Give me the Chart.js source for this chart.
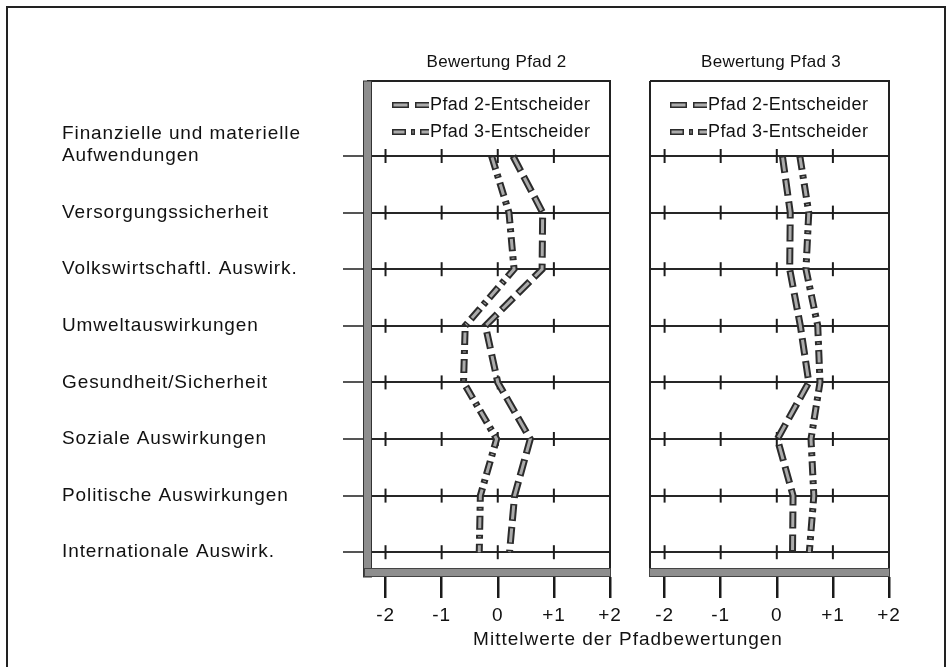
<!DOCTYPE html>
<html><head><meta charset="utf-8">
<script src="https://cdn.jsdelivr.net/npm/chart.js@4/dist/chart.umd.min.js"></script>
<style>
html,body{margin:0;padding:0;background:#fff;overflow:hidden;width:952px;height:667px;position:relative;}
#frame{position:absolute;left:6px;top:6px;width:940px;height:720px;border:2px solid #222;box-sizing:border-box;}
#c1{position:absolute;left:0;top:0;}
#c2{position:absolute;left:625px;top:0;}
</style></head><body>
<div id="frame"></div>
<canvas id="c1" width="952" height="667"></canvas>
<canvas id="c2" width="327" height="667"></canvas>
<script>
// ---------- data ----------
const categories = [["Finanzielle und materielle", "Aufwendungen"], "Versorgungssicherheit", "Volkswirtschaftl. Auswirk.", "Umweltauswirkungen", "Gesundheit/Sicherheit", "Soziale Auswirkungen", "Politische Auswirkungen", "Internationale Auswirk."];
const seriesNames = ["Pfad 2-Entscheider", "Pfad 3-Entscheider"];
const panelTitles = ["Bewertung Pfad 2", "Bewertung Pfad 3"];
const xTickValues = [-2, -1, 0, 1, 2];
const xTickLabels = ["-2", "-1", "0", "+1", "+2"];
const axisTitle = "Mittelwerte der Pfadbewertungen";
// Bewertung Pfad 2
const path2RatingByPath2Deciders = [0.27, 0.80, 0.79, -0.22, 0.00, 0.58, 0.30, 0.21];
const path2RatingByPath3Deciders = [-0.11, 0.20, 0.29, -0.58, -0.61, -0.02, -0.31, -0.33];
// Bewertung Pfad 3
const path3RatingByPath2Deciders = [0.10, 0.24, 0.23, 0.42, 0.57, 0.01, 0.29, 0.28];
const path3RatingByPath3Deciders = [0.41, 0.57, 0.52, 0.73, 0.77, 0.61, 0.66, 0.58];

// ---------- styles ----------
const FONT = '"Liberation Sans", Arial, Helvetica, sans-serif';
Chart.defaults.font.family = FONT;
Chart.defaults.color = '#111';
const OUTER = '#2b2b2b', INNER = '#ababab';
const STY = [
  {dash: [17, 6], inner: [14, 9]},
  {dash: [14, 5, 4, 5], inner: [11, 8, 1, 8]}
];
const LINE_STEP = 0.39; // vertical step for second line of multi-line labels (in row units)

// y ticks built from categories (multi-line label lines stacked above the row)
const yTickVals = [], yTickTexts = [];
categories.forEach((c, i) => {
  const lines = Array.isArray(c) ? c : [c];
  lines.forEach((t, j) => { yTickVals.push(i - (lines.length - 1 - j) * LINE_STEP); yTickTexts.push(t); });
});
const isRow = c => c.tick && Number.isInteger(c.tick.value);

function decor(o) {
  return {
    id: 'decor',
    beforeDraw(chart) { chart.ctx.letterSpacing = '0.9px'; },
    beforeDatasetsDraw(chart) {
      const {ctx, chartArea: a} = chart; const x = chart.scales.x, y = chart.scales.y;
      ctx.save();
      ctx.letterSpacing = '0px';
      // small crosses at integer positions on each row line
      ctx.strokeStyle = '#1c1c1c'; ctx.lineWidth = 2;
      categories.forEach((_, r) => {
        const py = y.getPixelForValue(r);
        xTickValues.forEach(v => {
          const px = x.getPixelForValue(v);
          if (px > a.right - 3) return;
          ctx.beginPath(); ctx.moveTo(px, py - 7); ctx.lineTo(px, py + 7); ctx.stroke();
        });
      });
      // frame
      ctx.strokeStyle = '#222'; ctx.lineWidth = 2;
      ctx.beginPath(); ctx.moveTo(a.left, a.top); ctx.lineTo(a.right, a.top); ctx.lineTo(a.right, a.bottom); ctx.stroke();
      const barL = o.thickLeft ? a.left - 3 : a.left - 1;
      if (o.thickLeft) {
        ctx.fillStyle = '#8e8e8e'; ctx.fillRect(a.left - 3, a.top, 7, a.bottom - a.top);
        ctx.strokeStyle = '#333'; ctx.lineWidth = 1; ctx.strokeRect(a.left - 3.5, a.top, 8, a.bottom - a.top);
      } else {
        ctx.beginPath(); ctx.moveTo(a.left, a.top); ctx.lineTo(a.left, a.bottom); ctx.stroke();
      }
      ctx.fillStyle = '#8e8e8e'; ctx.fillRect(barL, a.bottom - 9, a.right - barL + 1, 9);
      ctx.strokeStyle = '#444'; ctx.lineWidth = 1; ctx.strokeRect(barL + 0.5, a.bottom - 8.5, a.right - barL, 8);
      ctx.restore();
    },
    afterDatasetsDraw(chart) {
      const {ctx, chartArea: a} = chart; const ds = chart.data.datasets;
      ctx.save();
      seriesNames.forEach((name, k) => {
        const ly = o.legendY[k], lx = a.left + o.legendDx;
        const outer = ds[2 * k], inner = ds[2 * k + 1];
        const len = 37;
        ctx.lineCap = 'butt';
        ctx.setLineDash(outer.borderDash); ctx.lineDashOffset = 0;
        ctx.strokeStyle = outer.borderColor; ctx.lineWidth = outer.borderWidth - 1;
        ctx.beginPath(); ctx.moveTo(lx, ly); ctx.lineTo(lx + len, ly); ctx.stroke();
        ctx.setLineDash(inner.borderDash); ctx.lineDashOffset = inner.borderDashOffset;
        ctx.strokeStyle = inner.borderColor; ctx.lineWidth = inner.borderWidth;
        ctx.beginPath(); ctx.moveTo(lx, ly); ctx.lineTo(lx + len, ly); ctx.stroke();
        ctx.setLineDash([]);
        ctx.font = '18px ' + FONT; ctx.fillStyle = '#111'; ctx.textBaseline = 'middle'; ctx.textAlign = 'left';
        ctx.letterSpacing = '0.4px';
        ctx.fillText(name, lx + len + 1, ly);
      });
      ctx.letterSpacing = '0.3px';
      ctx.font = '17px ' + FONT; ctx.textAlign = 'center'; ctx.textBaseline = 'middle'; ctx.fillStyle = '#111';
      ctx.fillText(o.title, (a.left + a.right) / 2 + o.titleDx, 62);
      if (o.axisTitle) {
        ctx.letterSpacing = '1px';
        ctx.font = '19px ' + FONT;
        ctx.fillText(axisTitle, o.axisTitleX, 640);
      }
      ctx.restore();
    }
  };
}

function buildChart(canvasId, o) {
  const datasets = [];
  o.series.forEach((vals, k) => {
    const data = vals.map((v, i) => ({x: v, y: i}));
    const common = {data, borderCapStyle: 'butt', borderJoinStyle: 'miter', pointRadius: 0, pointHoverRadius: 0, fill: false, tension: 0};
    datasets.push(Object.assign({label: seriesNames[k], borderColor: OUTER, borderWidth: 7, borderDash: STY[k].dash, borderDashOffset: 0, order: 10}, common));
    datasets.push(Object.assign({label: seriesNames[k] + ' (fill)', borderColor: INNER, borderWidth: 3, borderDash: STY[k].inner, borderDashOffset: -1.5, order: 1}, common));
  });
  return new Chart(document.getElementById(canvasId), {
    type: 'line',
    data: {datasets},
    options: {
      responsive: false, animation: false, indexAxis: 'y', events: [],
      layout: {padding: o.padding},
      plugins: {legend: {display: false}, tooltip: {enabled: false}, title: {display: false}},
      scales: {
        x: {
          type: 'linear', position: 'bottom', min: o.xMin, max: 2,
          afterBuildTicks: s => { s.ticks = xTickValues.map(v => ({value: v})); },
          afterFit: s => { s.height = 90; },
          ticks: {callback: (v, i) => xTickLabels[i], font: {size: 19}, color: '#111', padding: 6, autoSkip: false, maxRotation: 0},
          grid: {drawOnChartArea: false, drawTicks: true, tickLength: 21, tickWidth: 2.5, tickColor: '#1a1a1a', color: '#1a1a1a', lineWidth: 2.5},
          border: {display: false}
        },
        y: {
          type: 'linear', reverse: true, min: -1.325, max: 7.438,
          afterBuildTicks: s => { s.ticks = yTickVals.map(v => ({value: v})); },
          afterFit: s => { s.width = o.yWidth; },
          ticks: {display: o.showLabels, callback: (v, i) => yTickTexts[i], font: {size: 19}, color: '#111', crossAlign: 'far', padding: 0, autoSkip: false},
          grid: {drawTicks: o.showLabels, tickLength: 24, lineWidth: 2,
                 color: c => isRow(c) ? '#262626' : 'rgba(0,0,0,0)',
                 tickColor: c => isRow(c) ? '#555' : 'rgba(0,0,0,0)'},
          border: {display: false}
        }
      }
    },
    plugins: [decor(o)]
  });
}

buildChart('c1', {
  series: [path2RatingByPath2Deciders, path2RatingByPath3Deciders],
  padding: {left: 62, top: 81, right: 342, bottom: 0},
  xMin: -2.33, yWidth: 305, showLabels: true, thickLeft: true,
  legendDx: 25, legendY: [105, 132], title: panelTitles[0], titleDx: 8,
  axisTitle: true, axisTitleX: 628
});
buildChart('c2', {
  series: [path3RatingByPath2Deciders, path3RatingByPath3Deciders],
  padding: {left: 25, top: 81, right: 63, bottom: 0},
  xMin: -2.26, yWidth: 0, showLabels: false, thickLeft: false,
  legendDx: 20, legendY: [105, 132], title: panelTitles[1], titleDx: 1.5,
  axisTitle: false
});
</script>
</body></html>
